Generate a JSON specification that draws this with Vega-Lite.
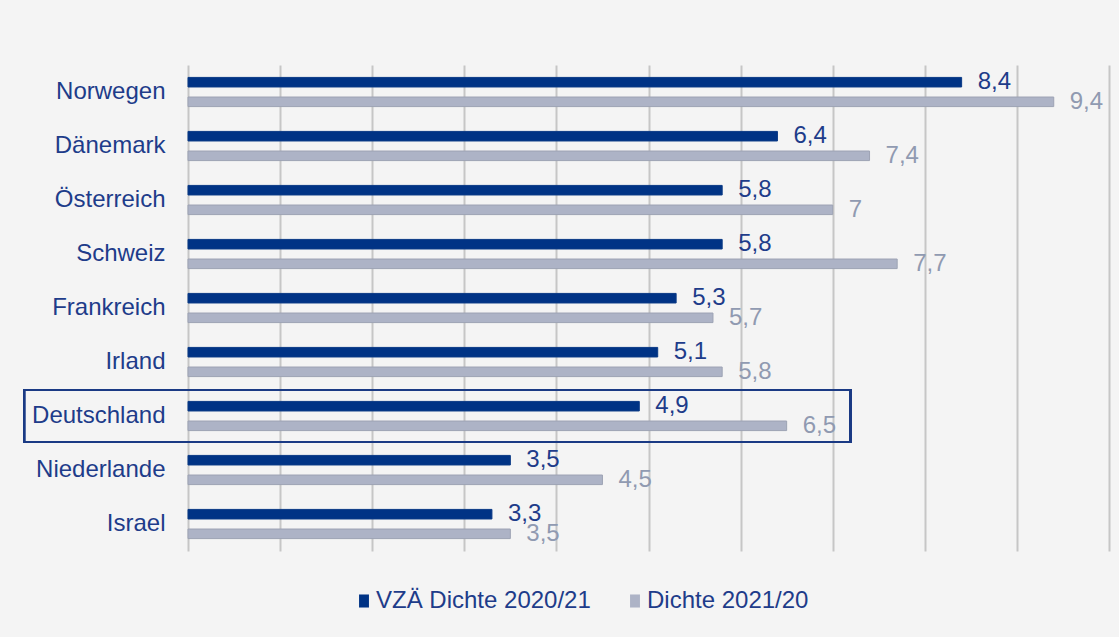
{
  "$schema": "https://vega.github.io/schema/vega-lite/v6.json",
  "width": 921,
  "height": 486,
  "autosize": {"type": "none"},
  "padding": {"left": 188, "top": 65, "right": 10, "bottom": 86},
  "background": "#f4f4f4",
  "config": {
    "view": {"stroke": null},
    "font": "Liberation Sans",
    "locale": {"number": {"decimal": ",", "thousands": ".", "grouping": [3], "currency": ["", " €"]}}
  },
  "data": {
    "values": [
      {"land": "Norwegen", "serie": "VZÄ Dichte 2020/21", "wert": 8.4},
      {"land": "Norwegen", "serie": "Dichte 2021/20", "wert": 9.4},
      {"land": "Dänemark", "serie": "VZÄ Dichte 2020/21", "wert": 6.4},
      {"land": "Dänemark", "serie": "Dichte 2021/20", "wert": 7.4},
      {"land": "Österreich", "serie": "VZÄ Dichte 2020/21", "wert": 5.8},
      {"land": "Österreich", "serie": "Dichte 2021/20", "wert": 7},
      {"land": "Schweiz", "serie": "VZÄ Dichte 2020/21", "wert": 5.8},
      {"land": "Schweiz", "serie": "Dichte 2021/20", "wert": 7.7},
      {"land": "Frankreich", "serie": "VZÄ Dichte 2020/21", "wert": 5.3},
      {"land": "Frankreich", "serie": "Dichte 2021/20", "wert": 5.7},
      {"land": "Irland", "serie": "VZÄ Dichte 2020/21", "wert": 5.1},
      {"land": "Irland", "serie": "Dichte 2021/20", "wert": 5.8},
      {"land": "Deutschland", "serie": "VZÄ Dichte 2020/21", "wert": 4.9},
      {"land": "Deutschland", "serie": "Dichte 2021/20", "wert": 6.5},
      {"land": "Niederlande", "serie": "VZÄ Dichte 2020/21", "wert": 3.5},
      {"land": "Niederlande", "serie": "Dichte 2021/20", "wert": 4.5},
      {"land": "Israel", "serie": "VZÄ Dichte 2020/21", "wert": 3.3},
      {"land": "Israel", "serie": "Dichte 2021/20", "wert": 3.5}
    ]
  },
  "encoding": {
    "y": {
      "field": "land", "type": "nominal", "sort": null,
      "scale": {"paddingInner": 0.46, "paddingOuter": 0.23},
      "axis": {
        "title": null, "domain": false, "ticks": false, "labelPadding": 23,
        "labelFontSize": 24, "labelColor": "#1e3c8a", "labelFont": "Liberation Sans"
      }
    }
  },
  "layer": [
    {
      "mark": {"type": "bar", "strokeWidth": 1},
      "encoding": {
        "x": {
          "field": "wert", "type": "quantitative",
          "scale": {"domain": [0, 10], "nice": false, "zero": true},
          "axis": {
            "title": null, "labels": false, "ticks": false, "domain": false,
            "values": [0, 1, 2, 3, 4, 5, 6, 7, 8, 9, 10],
            "grid": true, "gridColor": "#c6c6c6", "gridWidth": 2
          }
        },
        "yOffset": {
          "field": "serie", "type": "nominal", "sort": ["VZÄ Dichte 2020/21", "Dichte 2021/20"],
          "scale": {"paddingInner": 0.513, "paddingOuter": 0}
        },
        "color": {
          "field": "serie", "type": "nominal", "sort": ["VZÄ Dichte 2020/21", "Dichte 2021/20"],
          "scale": {"domain": ["VZÄ Dichte 2020/21", "Dichte 2021/20"], "range": ["#003385", "#adb3c6"]},
          "legend": {
            "title": null, "orient": "none", "direction": "horizontal",
            "legendX": 164, "legendY": 524, "padding": 0,
            "symbolType": "M-0.76,-1h1.52v2h-1.52z", "symbolSize": 170,
            "symbolStrokeWidth": 0, "symbolOffset": 0, "labelOffset": 0,
            "labelFontSize": 24, "labelColor": "#1e3c8a", "labelFont": "Liberation Sans",
            "labelLimit": 400, "columnPadding": 32
          }
        },
        "stroke": {
          "field": "serie", "type": "nominal",
          "scale": {"domain": ["VZÄ Dichte 2020/21", "Dichte 2021/20"], "range": ["#0a3a86", "#9da3b4"]},
          "legend": null
        }
      }
    },
    {
      "mark": {"type": "text", "align": "left", "baseline": "middle", "dx": 16, "fontSize": 24, "font": "Liberation Sans"},
      "encoding": {
        "x": {"field": "wert", "type": "quantitative", "scale": {"domain": [0, 10], "nice": false}},
        "yOffset": {
          "field": "serie", "type": "nominal", "sort": ["VZÄ Dichte 2020/21", "Dichte 2021/20"],
          "scale": {"paddingInner": 0.513, "paddingOuter": 0}
        },
        "text": {"field": "wert", "type": "quantitative", "format": ".2~r"},
        "color": {
          "field": "serie", "type": "nominal",
          "scale": {"domain": ["VZÄ Dichte 2020/21", "Dichte 2021/20"], "range": ["#1e3c8a", "#909ab1"]},
          "legend": null
        }
      }
    },
    {
      "mark": {"type": "rect", "fill": null, "fillOpacity": 0, "stroke": "#1a3a84", "strokeWidth": 2, "height": {"band": 1.78}},
      "encoding": {
        "y": {"datum": "Deutschland", "type": "nominal"},
        "x": {"datum": -1.78, "type": "quantitative"},
        "x2": {"datum": 7.19}
      }
    }
  ],
  "resolve": {"scale": {"color": "independent", "stroke": "independent"}}
}
